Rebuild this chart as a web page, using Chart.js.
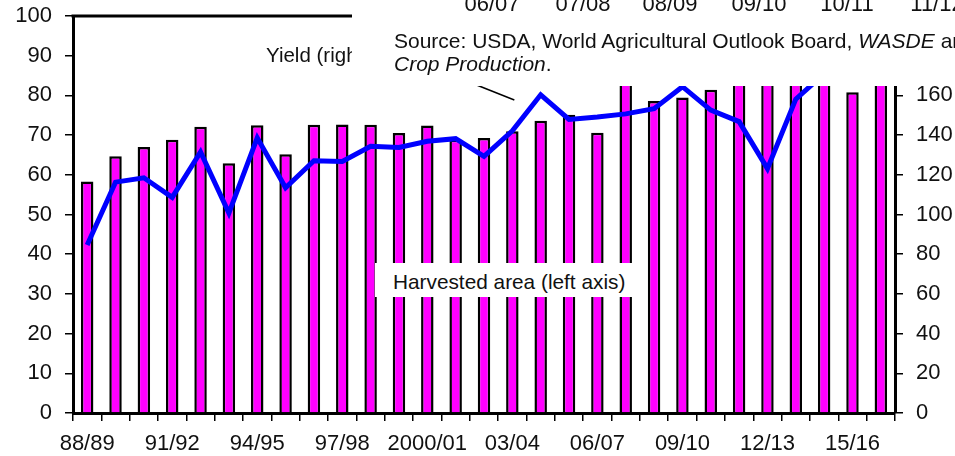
<!DOCTYPE html>
<html>
<head>
<meta charset="utf-8">
<script src="https://cdn.jsdelivr.net/npm/chart.js@4.4.1/dist/chart.umd.min.js"></script>
<style>
  html, body { margin: 0; padding: 0; background: #fff; }
  #wrap { position: relative; width: 955px; height: 456px; overflow: hidden; font-family: "Liberation Sans", Arial, sans-serif; color: #111; }
  canvas { position: absolute; left: 0; top: 0; }
  .ov { position: absolute; background: #fff; overflow: hidden; }
  .t { position: absolute; white-space: nowrap; line-height: 1; }
</style>
</head>
<body>
<div id="wrap">
  <canvas id="c" width="955" height="456"></canvas>
  <div class="t" style="left:266px; top:45px; font-size:20.5px;">Yield (right axis)</div>
  <div class="ov" style="left:375px; top:263px; width:265px; height:34px;">
    <div class="t" style="left:18px; top:8.5px; font-size:20.8px;">Harvested area (left axis)</div>
  </div>
  <div class="ov" id="srcbox" style="left:352px; top:0px; width:603px; height:86px;"></div>
</div>
<script>
const categories = ['88/89','89/90','90/91','91/92','92/93','93/94','94/95','95/96','96/97','97/98',
  '98/99','99/2000','2000/01','01/02','02/03','03/04','04/05','05/06','06/07','07/08',
  '08/09','09/10','10/11','11/12','12/13','13/14','14/15','15/16','16/17'];
// Harvested area, million acres (left axis)
const harvestedArea = [58.3,64.7,67.0,68.8,72.1,62.9,72.5,65.2,72.6,72.7,
  72.6,70.5,72.4,68.8,69.3,71.0,73.6,75.1,70.6,86.5,
  78.6,79.5,81.4,83.9,87.4,87.5,83.1,80.8,86.7];
// Yield, bushels per acre (right axis)
const yieldValues = [84.6,116.3,118.5,108.6,131.5,100.7,138.6,113.5,127.1,126.7,
  134.4,133.8,136.9,138.2,129.3,142.2,160.3,147.9,149.1,150.7,
  153.3,164.4,152.6,146.8,123.1,158.1,171.0,168.4,174.6];
const leftTicks = [0,10,20,30,40,50,60,70,80,90,100];
const rightTicks = [0,20,40,60,80,100,120,140,160,180,200];
// Text of the overlapping panel at top right
const otherPanelLabels = ['06/07','07/08','08/09','09/10','10/11','11/12'];
// Leader line from the "Yield" label to the curve, in (category index, right-axis value)
const leaderFrom = [11.7, 176.8];
const leaderTo = [15.07, 157.7];

// build overlay panel text
(function(){
  const box = document.getElementById('srcbox');
  const centers = [140, 231, 318, 407, 495, 585];
  otherPanelLabels.forEach((s, i) => {
    const d = document.createElement('div');
    d.className = 't';
    d.style.cssText = 'left:' + (centers[i] - 50) + 'px; top:-7px; width:100px; text-align:center; font-size:22px;';
    d.textContent = s;
    box.appendChild(d);
  });
  const l1 = document.createElement('div');
  l1.className = 't';
  l1.style.cssText = 'left:42px; top:30px; font-size:21px;';
  l1.innerHTML = 'Source: USDA, World Agricultural Outlook Board, <i>WASDE</i> and';
  box.appendChild(l1);
  const l2 = document.createElement('div');
  l2.className = 't';
  l2.style.cssText = 'left:42px; top:53px; font-size:21px;';
  l2.innerHTML = '<i>Crop Production</i>.';
  box.appendChild(l2);
})();

const FONT = "'Liberation Sans', Arial, sans-serif";

const framePlugin = {
  id: 'frame',
  afterDatasetsDraw(chart) {
    const ctx = chart.ctx;
    const xs = chart.scales.x, y1 = chart.scales.y1;
    const a = chart.chartArea;
    ctx.save();
    // leader line
    ctx.strokeStyle = '#000';
    ctx.lineWidth = 1.5;
    ctx.beginPath();
    ctx.moveTo(xs.getPixelForValue(leaderFrom[0]), y1.getPixelForValue(leaderFrom[1]));
    ctx.lineTo(xs.getPixelForValue(leaderTo[0]), y1.getPixelForValue(leaderTo[1]));
    ctx.stroke();
    // top frame line
    ctx.lineWidth = 3;
    ctx.beginPath();
    ctx.moveTo(a.left - 1.5, a.top);
    ctx.lineTo(a.right + 1.5, a.top);
    ctx.stroke();
    ctx.restore();
  }
};

new Chart(document.getElementById('c'), {
  type: 'bar',
  data: {
    labels: categories,
    datasets: [
      {
        type: 'line',
        label: 'Yield (right axis)',
        data: yieldValues,
        yAxisID: 'y1',
        borderColor: '#0000FF',
        borderWidth: 5,
        pointRadius: 0,
        tension: 0,
        fill: false,
        order: 0
      },
      {
        type: 'bar',
        label: 'Harvested area (left axis)',
        data: harvestedArea,
        yAxisID: 'y',
        backgroundColor: '#FF00FF',
        borderColor: '#000000',
        borderWidth: 2.5,
        categoryPercentage: 1,
        barPercentage: 0.44,
        order: 1
      }
    ]
  },
  options: {
    responsive: false,
    animation: false,
    devicePixelRatio: 1,
    layout: { padding: { top: 16, left: 0, right: 0, bottom: 0 } },
    plugins: { legend: { display: false }, tooltip: { enabled: false } },
    scales: {
      x: {
        offset: true,
        grid: { display: true, offset: true, drawOnChartArea: false, drawTicks: true, tickLength: 8, color: '#000', lineWidth: 1.5 },
        border: { display: true, color: '#000', width: 3 },
        ticks: {
          autoSkip: false, maxRotation: 0, minRotation: 0, padding: 10,
          color: '#111', font: { family: FONT, size: 22 },
          callback: (v, i) => (i % 3 === 0 ? categories[i] : '')
        },
        afterFit: s => { s.height = 43; s.paddingLeft = 0; s.paddingRight = 0; }
      },
      y: {
        position: 'left',
        min: 0, max: 100,
        afterBuildTicks: s => { s.ticks = leftTicks.map(v => ({ value: v })); },
        grid: { drawOnChartArea: false, drawTicks: true, tickLength: 8, color: '#000', lineWidth: 1.5 },
        border: { display: true, color: '#000', width: 3 },
        ticks: { padding: 13, color: '#111', font: { family: FONT, size: 22 } },
        afterFit: s => { s.width = 73; s.paddingTop = 0; s.paddingBottom = 0; }
      },
      y1: {
        position: 'right',
        min: 0, max: 200,
        afterBuildTicks: s => { s.ticks = rightTicks.map(v => ({ value: v })); },
        grid: { drawOnChartArea: false, drawTicks: true, tickLength: 8, color: '#000', lineWidth: 1.5 },
        border: { display: true, color: '#000', width: 3 },
        ticks: { padding: 13, color: '#111', font: { family: FONT, size: 22 } },
        afterFit: s => { s.width = 60; s.paddingTop = 0; s.paddingBottom = 0; }
      }
    }
  },
  plugins: [framePlugin]
});
</script>
</body>
</html>
